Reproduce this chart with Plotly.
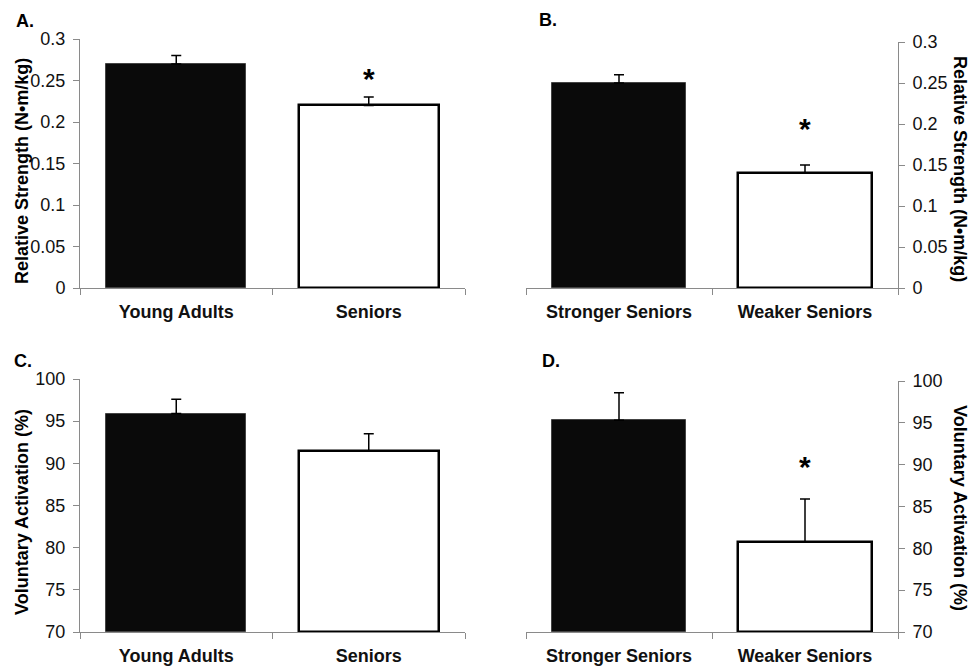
import plotly.graph_objects as go

# ---- data ----
cats_AC = ["Young Adults", "Seniors"]
cats_BD = ["Stronger Seniors", "Weaker Seniors"]

strength_AC = [0.27, 0.22]
strength_AC_err = [0.01, 0.01]
strength_BD = [0.25, 0.14]
strength_BD_err = [0.01, 0.01]

activation_AC = [95.9, 91.5]
activation_AC_err = [1.7, 2.0]
activation_BD = [95.3, 80.8]
activation_BD_err = [3.3, 5.1]

strength_ticks = [0, 0.05, 0.1, 0.15, 0.2, 0.25, 0.3]
strength_ticktext = ["0", "0.05", "0.1", "0.15", "0.2", "0.25", "0.3"]
activation_ticks = [70, 75, 80, 85, 90, 95, 100]
activation_ticktext = ["70", "75", "80", "85", "90", "95", "100"]

star_A = ("Seniors", 0.253)
star_B = ("Weaker Seniors", 0.194)
star_D = ("Weaker Seniors", 89.8)

strength_title = "Relative Strength (N•m/kg)"
activation_title = "Voluntary Activation (%)"

# ---- style ----
FONT = "Liberation Sans, Arial, Helvetica, sans-serif"
W, H = 971, 666
fill_colors = ["#0a0a0a", "#ffffff"]
line_colors = ["#444444", "#000000"]
line_widths = [1, 2.5]
AXIS_COLOR = "#8a8a8a"

fig = go.Figure()

panels = [
    ("x", "y", cats_AC, strength_AC, strength_AC_err, (80, 465), (39, 288), [0, 0.3], strength_ticks, strength_ticktext, "left"),
    ("x2", "y2", cats_BD, strength_BD, strength_BD_err, (526, 898), (42, 288), [0, 0.3], strength_ticks, strength_ticktext, "right"),
    ("x3", "y3", cats_AC, activation_AC, activation_AC_err, (80, 465), (379, 632), [70, 100], activation_ticks, activation_ticktext, "left"),
    ("x4", "y4", cats_BD, activation_BD, activation_BD_err, (526, 898), (381, 632), [70, 100], activation_ticks, activation_ticktext, "right"),
]

layout_axes = {}
for xid, yid, cats, vals, errs, xd, yd, yr, tv, tt, side in panels:
    base = yr[0]
    fig.add_trace(go.Bar(
        x=cats,
        y=[v - base for v in vals],
        base=[base] * len(vals),
        xaxis=xid, yaxis=yid,
        width=0.725,
        marker=dict(color=fill_colors, line=dict(color=line_colors, width=line_widths)),
        error_y=dict(type="data", symmetric=False, array=errs, arrayminus=[0] * len(errs),
                     color="#000000", thickness=1.5, width=5),
        showlegend=False,
        hoverinfo="skip",
    ))
    xname = "xaxis" + xid[1:]
    yname = "yaxis" + yid[1:]
    layout_axes[xname] = dict(
        domain=[xd[0] / W, xd[1] / W],
        anchor=yid,
        type="category",
        range=[-0.5, 1.5],
        automargin=False,
        showline=True, linecolor=AXIS_COLOR, linewidth=1,
        ticks="outside", tickson="boundaries", ticklen=6, tickcolor=AXIS_COLOR,
        tickfont=dict(family=FONT, size=18, color="#111111", weight="bold"),
        ticklabelstandoff=7,
        showgrid=False, zeroline=False, fixedrange=True,
    )
    layout_axes[yname] = dict(
        domain=[1 - yd[1] / H, 1 - yd[0] / H],
        anchor=xid,
        side=side,
        range=yr,
        automargin=False,
        tickvals=tv, ticktext=tt,
        showline=True, linecolor=AXIS_COLOR, linewidth=1,
        ticks="outside", ticklen=6, tickcolor=AXIS_COLOR,
        tickfont=dict(family=FONT, size=18, color="#111111"),
        ticklabelstandoff=4,
        showgrid=False, zeroline=False, fixedrange=True,
    )

fig.update_layout(**layout_axes)

annotations = []
for txt, px, py in [("A.", 14, 21), ("B.", 537, 20), ("C.", 12, 361), ("D.", 540, 361)]:
    annotations.append(dict(text=txt, xref="paper", yref="paper", x=px / W, y=1 - py / H,
                            xanchor="left", yanchor="middle", showarrow=False,
                            font=dict(family=FONT, size=18, color="#000000", weight="bold")))
for txt, px, py, ang in [(strength_title, 22, 171, -90), (activation_title, 22, 512, -90),
                         (strength_title, 960, 169, 90), (activation_title, 960, 508, 90)]:
    annotations.append(dict(text=txt, xref="paper", yref="paper", x=px / W, y=1 - py / H,
                            xanchor="center", yanchor="middle", textangle=ang, showarrow=False,
                            font=dict(family=FONT, size=18, color="#000000", weight="bold")))
for (cat, val), xr, yr_ in [(star_A, "x", "y"), (star_B, "x2", "y2"), (star_D, "x4", "y4")]:
    annotations.append(dict(text="*", xref=xr, yref=yr_, x=cat, y=val,
                            xanchor="center", yanchor="middle", showarrow=False,
                            font=dict(family=FONT, size=30, color="#000000", weight="bold")))

fig.update_layout(
    template="none",
    width=W, height=H,
    margin=dict(l=0, r=0, t=0, b=0, autoexpand=False),
    paper_bgcolor="white", plot_bgcolor="white",
    annotations=annotations,
    bargap=0,
)

fig.write_html("out.html",
               config={"displayModeBar": False},
               post_script="document.body.style.margin='0px';document.body.style.overflow='hidden';")
